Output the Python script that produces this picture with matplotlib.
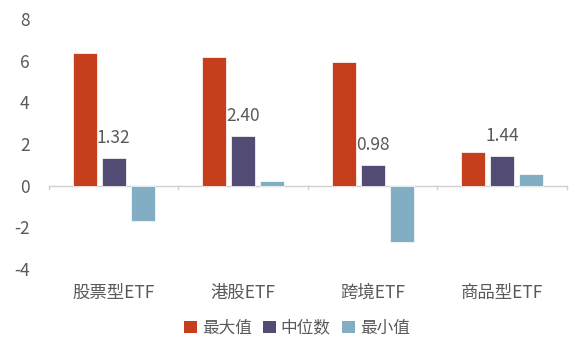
import numpy as np
import matplotlib
matplotlib.use('Agg')
import matplotlib.pyplot as plt
from matplotlib.patches import Patch

plt.rcParams['font.family'] = ['Noto Sans CJK SC', 'DejaVu Sans']
plt.rcParams['axes.unicode_minus'] = False

categories = ['股票型ETF', '港股ETF', '跨境ETF', '商品型ETF']
max_vals = [6.38, 6.18, 5.92, 1.60]
median_vals = [1.32, 2.40, 0.98, 1.44]
min_vals = [-1.68, 0.22, -2.72, 0.58]
series_names = ['最大值', '中位数', '最小值']
colors = ['#C63F1D', '#524B73', '#82AEC3']
text_color = '#595959'

fig = plt.figure(figsize=(5.73, 3.45), dpi=100)
ax = fig.add_axes([0.0855, 0.22, 0.904, 0.725])

x = np.arange(len(categories))
w = 0.185
step = 0.224
ax.bar(x - step, max_vals, w, color=colors[0], edgecolor='white', linewidth=0.5)
ax.bar(x, median_vals, w, color=colors[1], edgecolor='white', linewidth=0.5)
ax.bar(x + step, min_vals, w, color=colors[2], edgecolor='white', linewidth=0.5)

for xi, v in zip(x, median_vals):
    ax.annotate(f'{v:.2f}', (xi, v), xytext=(0, 8), textcoords='offset points',
                ha='center', va='bottom', fontsize=12.5, color=text_color)

ax.set_xlim(-0.5, len(categories) - 0.5)
ax.set_ylim(-4, 8)
ax.set_yticks([-4, -2, 0, 2, 4, 6, 8])
ax.tick_params(axis='y', length=0, labelsize=12.5, labelcolor=text_color, pad=14)
ax.set_xticks([])
for s in ax.spines.values():
    s.set_visible(False)

# zero line with small boundary ticks
ax.axhline(0, color='#D0D0D0', linewidth=1.0, zorder=0.5)
for b in np.arange(-0.5, len(categories), 1.0):
    ax.plot([b, b], [0, -0.15], color='#D0D0D0', linewidth=1.0, clip_on=False)

for xi, c in zip(x, categories):
    ax.text(xi, -0.095, c, transform=ax.get_xaxis_transform(), ha='center', va='center',
            fontsize=12.5, color=text_color)

handles = [Patch(facecolor=c, label=n) for c, n in zip(colors, series_names)]
fig.legend(handles=handles, loc='center', bbox_to_anchor=(297 / 573, 1 - 328 / 345),
           ncol=3, frameon=False, fontsize=12, labelcolor=text_color,
           handlelength=0.75, handleheight=0.75, handletextpad=0.3, columnspacing=0.7)

fig.savefig('out.png', dpi=100)
